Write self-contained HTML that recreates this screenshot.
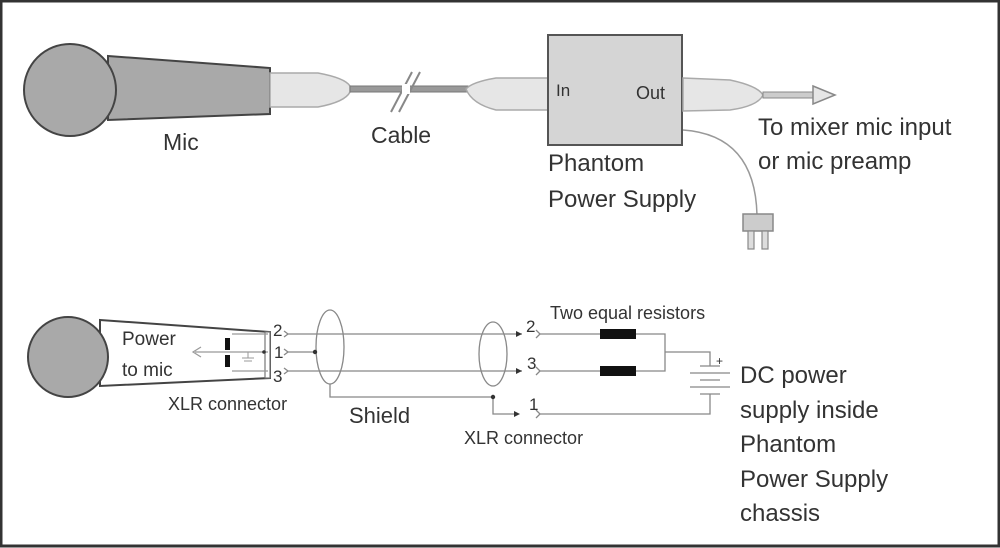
<!DOCTYPE html>
<html><head><meta charset="utf-8"><style>
html,body{margin:0;padding:0;background:#fff}
svg{display:block}
text{font-family:"Liberation Sans",sans-serif;fill:#333}
</style></head><body>
<svg width="1000" height="548" viewBox="0 0 1000 548" xmlns="http://www.w3.org/2000/svg">
<rect x="1" y="1" width="998" height="545" fill="#fff" stroke="#333" stroke-width="3"/>
<!-- top mic -->
<polygon points="108,56 270,68 270,114 108,120" fill="#a9a9a9" stroke="#444" stroke-width="2"/>
<circle cx="70" cy="90" r="46" fill="#a9a9a9" stroke="#444" stroke-width="2"/>
<path d="M270,73 L318,73 Q345,78 350,86 L350,92 Q345,102 318,107 L270,107 Z" fill="#e6e6e6" stroke="#aaa" stroke-width="1.5"/>
<rect x="350" y="86" width="118" height="6" fill="#999" stroke="#777" stroke-width="1"/>
<line x1="391" y1="112" x2="412" y2="72" stroke="#888" stroke-width="2"/>
<line x1="399" y1="112" x2="420" y2="72" stroke="#888" stroke-width="2"/>
<rect x="402" y="84" width="8" height="10" fill="#fff"/>
<path d="M548,78 L496,78 Q472,82 466,89 Q472,104 496,110 L548,110 Z" fill="#e6e6e6" stroke="#aaa" stroke-width="1.5"/>
<rect x="548" y="35" width="134" height="110" fill="#d5d5d5" stroke="#555" stroke-width="2"/>
<text x="556" y="96" font-size="17">In</text>
<text x="636" y="99" font-size="18">Out</text>
<path d="M683,78 L730,80 Q758,86 763,95 Q758,106 730,110 L683,111 Z" fill="#e6e6e6" stroke="#aaa" stroke-width="1.5"/>
<rect x="763" y="92" width="52" height="6" fill="#ccc" stroke="#888" stroke-width="1"/>
<polygon points="813,86 835,95 813,104" fill="#e6e6e6" stroke="#888" stroke-width="1.5"/>
<path d="M683,130 Q755,135 757,215" fill="none" stroke="#999" stroke-width="1.5"/>
<rect x="743" y="214" width="30" height="17" fill="#ccc" stroke="#888" stroke-width="1.5"/>
<rect x="748" y="231" width="6" height="18" fill="#ddd" stroke="#888" stroke-width="1.2"/>
<rect x="762" y="231" width="6" height="18" fill="#ddd" stroke="#888" stroke-width="1.2"/>
<text x="163" y="150" font-size="23">Mic</text>
<text x="371" y="143" font-size="23">Cable</text>
<text x="758" y="135" font-size="24">To mixer mic input</text>
<text x="758" y="169" font-size="24">or mic preamp</text>
<text x="548" y="171" font-size="24">Phantom</text>
<text x="548" y="207" font-size="24">Power Supply</text>
<!-- bottom -->
<polygon points="100,320 270,332 270,378 100,386" fill="#fff" stroke="#444" stroke-width="2"/>
<circle cx="68" cy="357" r="40" fill="#a9a9a9" stroke="#444" stroke-width="2"/>
<rect x="265" y="332" width="5" height="46" fill="#fff" stroke="#777" stroke-width="1.2"/>
<line x1="232" y1="334" x2="268" y2="334" stroke="#999" stroke-width="1.2"/>
<line x1="232" y1="371" x2="268" y2="371" stroke="#999" stroke-width="1.2"/>
<line x1="195" y1="352" x2="268" y2="352" stroke="#999" stroke-width="1.2"/>
<path d="M201,347 L193,352 L201,357" fill="none" stroke="#999" stroke-width="1.2"/>
<rect x="225" y="338" width="5" height="12" fill="#111"/>
<rect x="225" y="355" width="5" height="12" fill="#111"/>
<line x1="248" y1="352" x2="248" y2="358" stroke="#999"/>
<line x1="242" y1="358" x2="254" y2="358" stroke="#999"/>
<line x1="244" y1="361" x2="252" y2="361" stroke="#999"/>
<circle cx="264" cy="352" r="1.8" fill="#333"/>
<text x="273" y="336" font-size="17">2</text>
<text x="274" y="358" font-size="17">1</text>
<text x="273" y="382" font-size="17">3</text>
<g stroke="#888" stroke-width="1.3" fill="none">
<path d="M284,331 L288,334 L284,337"/>
<path d="M284,349 L288,352 L284,355"/>
<path d="M284,368 L288,371 L284,374"/>
<line x1="287" y1="334" x2="522" y2="334"/>
<line x1="287" y1="352" x2="315" y2="352"/>
<line x1="287" y1="371" x2="522" y2="371"/>
<ellipse cx="330" cy="347" rx="14" ry="37"/>
<ellipse cx="493" cy="354" rx="14" ry="32"/>
<polyline points="330,384 330,397 493,397"/>
<polyline points="493,397 493,414 518,414"/>
<path d="M536,330 L540,334 L536,338"/>
<path d="M536,367 L540,371 L536,375"/>
<path d="M536,410 L540,414 L536,418"/>
<polyline points="540,334 665,334 665,371 540,371"/>
<polyline points="540,414 710,414 710,394"/>
<polyline points="665,352 710,352 710,366"/>
<line x1="700" y1="366" x2="720" y2="366"/>
<line x1="690" y1="373" x2="730" y2="373"/>
<line x1="700" y1="380" x2="720" y2="380"/>
<line x1="690" y1="387" x2="730" y2="387"/>
<line x1="700" y1="394" x2="720" y2="394"/>
</g>
<polygon points="516,331 522,334 516,337" fill="#333"/>
<polygon points="516,368 522,371 516,374" fill="#333"/>
<polygon points="514,411 520,414 514,417" fill="#333"/>
<circle cx="315" cy="352" r="2.2" fill="#333"/>
<circle cx="493" cy="397" r="2.2" fill="#333"/>
<rect x="600" y="329" width="36" height="10" fill="#111"/>
<rect x="600" y="366" width="36" height="10" fill="#111"/>
<text x="716" y="365" font-size="12">+</text>
<text x="526" y="332" font-size="17">2</text>
<text x="527" y="369" font-size="17">3</text>
<text x="529" y="410" font-size="17">1</text>
<text x="122" y="345" font-size="19">Power</text>
<text x="122" y="376" font-size="19">to mic</text>
<text x="168" y="410" font-size="18">XLR connector</text>
<text x="349" y="423" font-size="22">Shield</text>
<text x="464" y="444" font-size="18">XLR connector</text>
<text x="550" y="319" font-size="18">Two equal resistors</text>
<text x="740" y="383" font-size="24">DC power</text>
<text x="740" y="418" font-size="24">supply inside</text>
<text x="740" y="452" font-size="24">Phantom</text>
<text x="740" y="487" font-size="24">Power Supply</text>
<text x="740" y="521" font-size="24">chassis</text>
</svg>
</body></html>
